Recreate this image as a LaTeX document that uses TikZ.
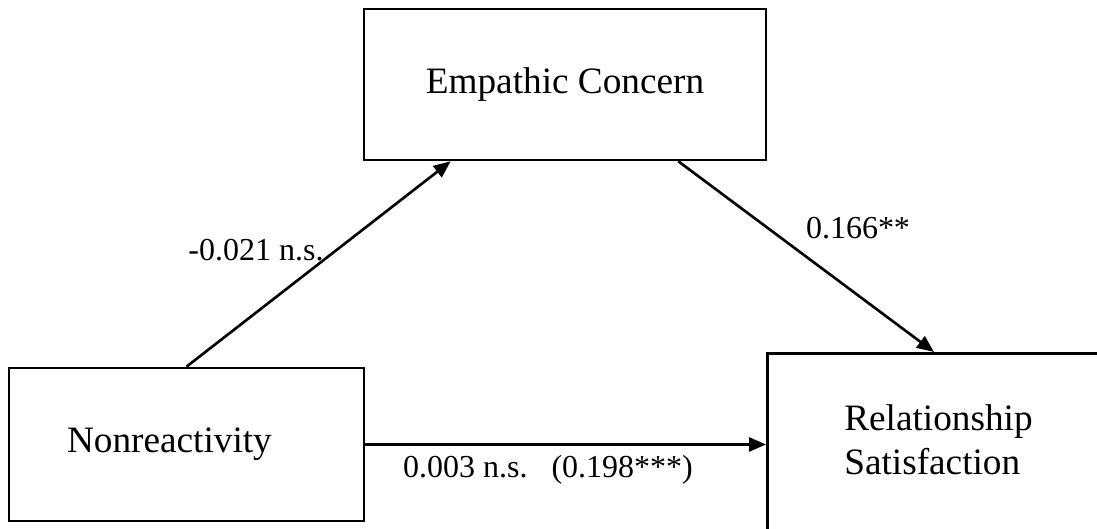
\documentclass[tikz,border=0pt]{standalone}
\usepackage{fontspec}
\setmainfont{Liberation Serif}
\usetikzlibrary{arrows.meta, calc, positioning}

\begin{document}
\begin{tikzpicture}[>={Triangle[length=0.17cm,width=0.14cm]}, line width=0.75pt, font=\fontsize{10.6}{12.5}\selectfont,
  coef/.style={font=\fontsize{9.1}{11}\selectfont}]
\useasboundingbox (0,0) rectangle (10.97,5.29);
\node[draw, minimum width=4.02cm, minimum height=1.51cm](EC) at (5.65,4.445){Empathic Concern};
\node[draw, text width=2.39cm, align=left, inner xsep=0.58cm, minimum height=1.53cm](NR) at (1.865,0.845){Nonreactivity};
\node[draw, anchor=north west, minimum width=4cm, minimum height=2.3cm](RS) at (7.66,1.77){};
\node[anchor=north west, align=left, inner sep=0pt](RStext) at (8.43,1.26){Relationship\\Satisfaction};
\draw[->](NR.north)--($(EC.south west)+(0.88,0)$);
\draw[->]($(EC.south east)+(-0.89,0)$)--($(RS.north west)+(1.68,0)$);
\draw[->](NR.east)--(NR.east -| RS.west);
\node[coef](L1) at (2.56,2.79){-0.021 n.s.};
\node[coef](L2) at (8.58,3.01){0.166**};
\node[coef](L3) at (5.48,0.59){0.003 n.s.\ \ \ (0.198***)};
\end{tikzpicture}
\end{document}
